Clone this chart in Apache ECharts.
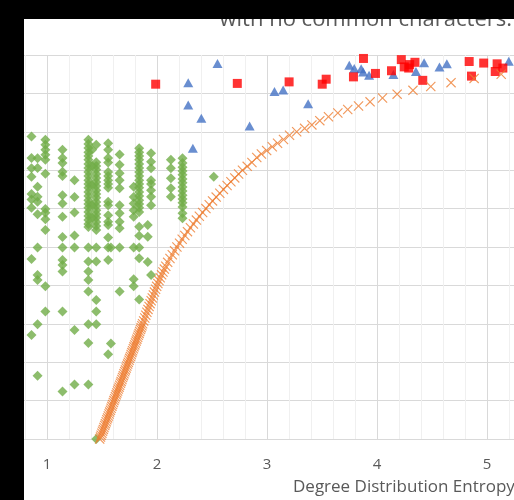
<!DOCTYPE html>
<html>
<head>
<meta charset="utf-8">
<script src="https://cdn.jsdelivr.net/npm/echarts@6/dist/echarts.min.js"></script>
<style>
  html, body { margin: 0; padding: 0; background: #ffffff; overflow: hidden; width: 514px; height: 500px; }
  /* The plot spans entropy 0..6; only 0.82..5.23 falls inside the window. */
  #chart { position: absolute; left: -66px; top: 0; width: 666px; height: 500px; }
</style>
</head>
<body>
<div id="chart"></div>
<script>
// Chart text
const titleText = 'with no common characters.';
const xAxisTitle = 'Degree Distribution Entropy';
const xTickValues = [1, 2, 3, 4, 5];

// Green diamonds, grouped by column: [entropy, [values...]]
const greenColumns = [
  [0.859, [0.788, 0.732, 0.705, 0.683, 0.638, 0.624, 0.602, 0.469, 0.271]],
  [0.914, [0.731, 0.706, 0.657, 0.631, 0.618, 0.585, 0.499, 0.427, 0.414, 0.299, 0.165]],
  [0.985, [0.779, 0.766, 0.753, 0.740, 0.727, 0.691, 0.599, 0.589, 0.572, 0.544, 0.398, 0.332]],
  [1.141, [0.753, 0.732, 0.719, 0.696, 0.685, 0.635, 0.613, 0.579, 0.526, 0.499, 0.466, 0.453, 0.436, 0.332, 0.124]],
  [1.250, [0.674, 0.630, 0.590, 0.530, 0.499, 0.284, 0.142]],
  [1.376, [0.779, 0.768, 0.758, 0.747, 0.737, 0.727, 0.716, 0.706, 0.695, 0.685, 0.674, 0.664, 0.654, 0.643, 0.633, 0.622, 0.612, 0.602, 0.591, 0.581, 0.570, 0.560, 0.552, 0.499, 0.462, 0.436, 0.414, 0.384, 0.299, 0.250, 0.142]],
  [1.410, [0.753, 0.711, 0.661, 0.609, 0.576]],
  [1.448, [0.766, 0.721, 0.711, 0.701, 0.690, 0.680, 0.669, 0.659, 0.648, 0.638, 0.628, 0.617, 0.607, 0.596, 0.586, 0.576, 0.565, 0.555, 0.544, 0.499, 0.462, 0.362, 0.332, 0.299, 0.000]],
  [1.556, [0.770, 0.753, 0.732, 0.720, 0.695, 0.685, 0.674, 0.664, 0.654, 0.618, 0.609, 0.583, 0.566, 0.557, 0.525, 0.499, 0.466, 0.221]],
  [1.581, [0.499, 0.249]],
  [1.660, [0.741, 0.714, 0.692, 0.674, 0.653, 0.609, 0.588, 0.566, 0.549, 0.499, 0.384]],
  [1.788, [0.657, 0.630, 0.613, 0.596, 0.579, 0.499, 0.416, 0.398]],
  [1.838, [0.757, 0.747, 0.737, 0.727, 0.716, 0.706, 0.695, 0.685, 0.674, 0.664, 0.654, 0.643, 0.633, 0.622, 0.612, 0.602, 0.591, 0.553, 0.529, 0.499, 0.471, 0.363]],
  [1.916, [0.557, 0.527, 0.461]],
  [1.946, [0.744, 0.722, 0.705, 0.674, 0.664, 0.648, 0.631, 0.609, 0.427]],
  [2.126, [0.727, 0.705, 0.679, 0.653, 0.631]],
  [2.232, [0.731, 0.719, 0.708, 0.698, 0.688, 0.677, 0.667, 0.656, 0.646, 0.635, 0.625, 0.615, 0.604, 0.588, 0.575]],
  [2.516, [0.683]]
];

// Orange crosses along the reference curve: [entropy, value]
const orangePoints = [
  [1.479, 0.000], [1.486, 0.005], [1.492, 0.010], [1.499, 0.015], [1.505, 0.020],
  [1.512, 0.025], [1.518, 0.030], [1.525, 0.035], [1.531, 0.040], [1.538, 0.045],
  [1.544, 0.050], [1.551, 0.055], [1.557, 0.060], [1.564, 0.065], [1.570, 0.070],
  [1.577, 0.075], [1.583, 0.080], [1.590, 0.085], [1.596, 0.090], [1.603, 0.095],
  [1.609, 0.100], [1.616, 0.105], [1.622, 0.110], [1.629, 0.115], [1.635, 0.120],
  [1.642, 0.125], [1.648, 0.130], [1.655, 0.135], [1.661, 0.140], [1.668, 0.145],
  [1.674, 0.150], [1.681, 0.155], [1.687, 0.160], [1.694, 0.165], [1.700, 0.170],
  [1.707, 0.175], [1.713, 0.180], [1.720, 0.185], [1.726, 0.190], [1.733, 0.195],
  [1.739, 0.200], [1.746, 0.205], [1.752, 0.210], [1.759, 0.215], [1.765, 0.220],
  [1.772, 0.225], [1.778, 0.230], [1.785, 0.235], [1.791, 0.240], [1.798, 0.245],
  [1.804, 0.250], [1.811, 0.255], [1.817, 0.260], [1.824, 0.265], [1.830, 0.270],
  [1.837, 0.275], [1.843, 0.280], [1.850, 0.285], [1.856, 0.290], [1.863, 0.295],
  [1.869, 0.300], [1.879, 0.3075], [1.889, 0.315], [1.898, 0.3225], [1.908, 0.330],
  [1.918, 0.3375], [1.928, 0.345], [1.937, 0.3525], [1.947, 0.360], [1.957, 0.3675],
  [1.967, 0.375], [1.977, 0.3825], [1.987, 0.390], [1.997, 0.3975], [2.008, 0.405],
  [2.018, 0.4125], [2.029, 0.420], [2.042, 0.4275], [2.054, 0.435], [2.067, 0.4425],
  [2.080, 0.450], [2.097, 0.46], [2.118, 0.47], [2.139, 0.48], [2.160, 0.49],
  [2.181, 0.50], [2.205, 0.51], [2.229, 0.52], [2.253, 0.53], [2.277, 0.54],
  [2.304, 0.55], [2.331, 0.56], [2.358, 0.57], [2.385, 0.58], [2.415, 0.59],
  [2.445, 0.60], [2.475, 0.61], [2.505, 0.62], [2.538, 0.63], [2.571, 0.64],
  [2.604, 0.65], [2.637, 0.66], [2.672, 0.67], [2.707, 0.68], [2.742, 0.69],
  [2.777, 0.70], [2.820, 0.71], [2.863, 0.72],
  [2.907, 0.733], [2.949, 0.742], [2.997, 0.751], [3.048, 0.761], [3.096, 0.770],
  [3.150, 0.780], [3.205, 0.791], [3.270, 0.800], [3.342, 0.809], [3.408, 0.818],
  [3.480, 0.829], [3.559, 0.839], [3.644, 0.849], [3.734, 0.858], [3.832, 0.867],
  [3.937, 0.878], [4.050, 0.888], [4.183, 0.898], [4.327, 0.908], [4.489, 0.918],
  [4.673, 0.928], [4.883, 0.939], [5.129, 0.950]
];

// Blue triangles: [entropy, value]
const bluePoints = [
  [2.284, 0.928], [2.550, 0.978], [2.284, 0.870], [2.403, 0.835], [2.326, 0.757],
  [2.842, 0.815], [3.068, 0.905], [3.147, 0.909], [3.374, 0.873], [3.748, 0.973],
  [3.793, 0.965], [3.856, 0.964], [3.874, 0.956], [3.928, 0.947], [4.149, 0.949],
  [4.354, 0.957], [4.428, 0.980], [4.568, 0.969], [4.635, 0.977], [5.198, 0.984]
];

// Red squares: [entropy, value]
const redPoints = [
  [1.988, 0.924], [2.730, 0.926], [3.201, 0.930], [3.502, 0.924], [3.538, 0.937],
  [3.877, 0.991], [3.786, 0.943], [3.986, 0.952], [4.132, 0.959], [4.221, 0.988],
  [4.248, 0.969], [4.288, 0.966], [4.297, 0.975], [4.345, 0.981], [4.416, 0.934],
  [4.838, 0.983], [4.859, 0.945], [4.970, 0.979], [5.092, 0.977], [5.075, 0.957],
  [5.144, 0.966]
];

const greenPoints = [];
greenColumns.forEach(([x, ys]) => ys.forEach(y => greenPoints.push([x, y])));

const FONT = '"Open Sans", "Noto Sans", sans-serif';
const TEXT_GRAY = '#595959';
const crossPath = 'path://M0,8L8,0L50,42L92,0L100,8L58,50L100,92L92,100L50,58L8,100L0,92L42,50Z';
// horizontal offset of the chart canvas relative to the window
const OFFSET_X = 66;

const chart = echarts.init(document.getElementById('chart'), null, { renderer: 'canvas' });

chart.setOption({
  animation: false,
  backgroundColor: '#ffffff',
  grid: { left: 0, right: 0, top: 55, bottom: 61, containLabel: false },
  xAxis: {
    type: 'value',
    min: 0,
    max: 6,
    interval: 1,
    axisLine: { show: true, lineStyle: { color: '#d9d9d9', width: 1 } },
    axisTick: { show: false },
    minorTick: { show: false, splitNumber: 5 },
    splitLine: { show: true, lineStyle: { color: '#d9d9d9', width: 1 } },
    minorSplitLine: { show: true, lineStyle: { color: '#f0f0f0', width: 1 } },
    axisLabel: {
      margin: 18,
      fontFamily: FONT,
      fontSize: 15,
      color: TEXT_GRAY,
      formatter: v => (xTickValues.indexOf(v) >= 0 ? String(v) : '')
    }
  },
  yAxis: {
    type: 'value',
    min: 0,
    max: 1,
    interval: 0.1,
    axisLine: { show: false },
    axisTick: { show: false },
    axisLabel: { show: false },
    splitLine: { show: true, lineStyle: { color: '#d9d9d9', width: 1 } }
  },
  series: [
    {
      type: 'scatter', data: greenPoints, symbol: 'diamond', symbolSize: 10,
      itemStyle: { color: '#70AD47' }, emphasis: { disabled: true }, z: 2
    },
    {
      type: 'scatter', data: bluePoints, symbol: 'triangle', symbolSize: [10, 9],
      itemStyle: { color: '#4472C4' }, emphasis: { disabled: true }, z: 3
    },
    {
      type: 'scatter', data: redPoints, symbol: 'rect', symbolSize: 9,
      itemStyle: { color: '#FF0000' }, emphasis: { disabled: true }, z: 4
    },
    {
      type: 'scatter', data: orangePoints, symbol: crossPath, symbolSize: 10,
      itemStyle: { color: '#ED7D31' }, emphasis: { disabled: true }, z: 5
    }
  ],
  graphic: [
    {
      type: 'text', z: 10,
      style: {
        text: titleText, x: OFFSET_X + 512, y: 20, textAlign: 'right', textVerticalAlign: 'middle',
        font: '22px ' + FONT, fill: TEXT_GRAY
      }
    },
    {
      type: 'text', z: 10,
      style: {
        text: xAxisTitle, x: OFFSET_X + 293, y: 487, textAlign: 'left', textVerticalAlign: 'middle',
        font: '17px ' + FONT, fill: TEXT_GRAY
      }
    },
    { type: 'rect', z: 20, shape: { x: 0, y: 0, width: 666, height: 19 }, style: { fill: '#000000' } },
    { type: 'rect', z: 20, shape: { x: 0, y: 0, width: OFFSET_X + 24, height: 500 }, style: { fill: '#000000' } }
  ]
});
</script>
</body>
</html>
